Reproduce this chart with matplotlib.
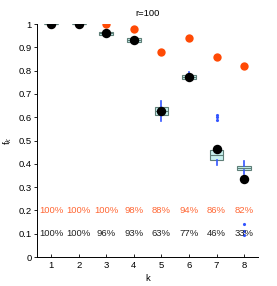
import matplotlib
matplotlib.use("Agg")
import matplotlib.pyplot as plt

plt.rcParams['font.family'] = ['Liberation Sans', 'DejaVu Sans']

k = [1, 2, 3, 4, 5, 6, 7, 8]
f_orange = [1.0, 1.0, 1.0, 0.98, 0.88, 0.94, 0.86, 0.82]
f_black = [1.0, 1.0, 0.96, 0.93, 0.627, 0.773, 0.462, 0.335]
pct_orange = ["100%", "100%", "100%", "98%", "88%", "94%", "86%", "82%"]
pct_black = ["100%", "100%", "96%", "93%", "63%", "77%", "46%", "33%"]

box_q1 = [1.0, 1.0, 0.953, 0.924, 0.609, 0.763, 0.416, 0.373]
box_q3 = [1.0, 1.0, 0.967, 0.938, 0.645, 0.781, 0.459, 0.392]
box_med = [1.0, 1.0, 0.96, 0.931, 0.627, 0.772, 0.44, 0.383]
box_lo = [1.0, 1.0, 0.95, 0.92, 0.584, 0.755, 0.395, 0.356]
box_hi = [1.0, 1.0, 0.97, 0.94, 0.67, 0.795, 0.47, 0.412]
box_fliers = [[], [], [], [], [], [], [0.61, 0.60, 0.59], [0.14, 0.11, 0.095]]

fig = plt.figure(figsize=(2.77, 2.86), dpi=100)
ax = fig.add_axes([0.135, 0.101, 0.796, 0.815])

stats = []
for i in range(len(k)):
    stats.append(dict(q1=box_q1[i], q3=box_q3[i], med=box_med[i],
                      whislo=box_lo[i], whishi=box_hi[i], fliers=box_fliers[i]))
ax.bxp(stats, positions=k, widths=0.5, patch_artist=True, showcaps=False,
       boxprops=dict(facecolor='#c8f2f0', edgecolor='#5f7f78', linewidth=0.8),
       whiskerprops=dict(color='#3355ff', linewidth=1.2),
       medianprops=dict(color='#5f7f78', linewidth=0.8),
       flierprops=dict(marker='.', markersize=2.5, markerfacecolor='#3355ff',
                       markeredgecolor='#3355ff'),
       zorder=2)

ax.plot(k, f_orange, 'o', color='#ff4a05', markersize=6, markeredgewidth=0, zorder=3)
ax.plot(k, f_black, 'o', color='black', markersize=6.8, markeredgewidth=0, zorder=4)

for i in range(len(k)):
    ax.text(k[i], 0.2, pct_orange[i], color='#ff6633', fontsize=6.8,
            ha='center', va='center', zorder=5)
    ax.text(k[i], 0.1, pct_black[i], color='#222222', fontsize=6.8,
            ha='center', va='center', zorder=5)

ax.set_xlim(0.5, 8.5)
ax.set_ylim(0, 1)
ax.set_xticks(k)
ax.set_xticklabels([str(v) for v in k])
ax.set_yticks([0, 0.1, 0.2, 0.3, 0.4, 0.5, 0.6, 0.7, 0.8, 0.9, 1])
ax.set_yticklabels(['0', '0.1', '0.2', '0.3', '0.4', '0.5', '0.6', '0.7', '0.8', '0.9', '1'])
ax.tick_params(labelsize=6.8, length=2, width=0.6, pad=2)
ax.tick_params(axis='x', direction='in', pad=3)
ax.tick_params(axis='y', direction='out')
for s in ['top', 'right']:
    ax.spines[s].set_visible(False)
for s in ['left', 'bottom']:
    ax.spines[s].set_linewidth(0.7)
ax.set_xlabel('k', fontsize=6.8, labelpad=3)
ax.set_ylabel('f$_k$', fontsize=6.8)
ax.yaxis.set_label_coords(-0.105, 0.5)
ax.set_title('r=100', fontsize=6.8, pad=6)

fig.savefig('out.png', dpi=100)
